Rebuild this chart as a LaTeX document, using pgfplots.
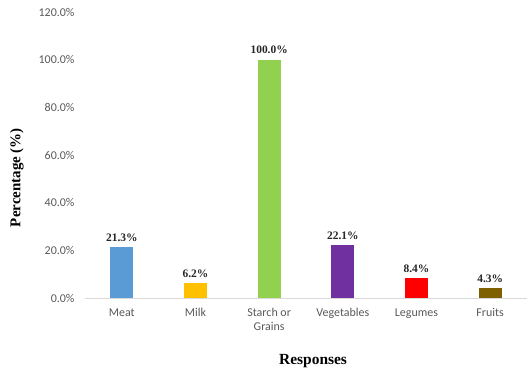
\documentclass[border=0pt]{standalone}
\usepackage{fontspec}
\setmainfont{Carlito}
\newfontfamily\timesf{Liberation Serif}
\usepackage{pgfplots}
\pgfplotsset{compat=1.18}
\definecolor{cMeat}{HTML}{5B9BD5}
\definecolor{cMilk}{HTML}{FFC000}
\definecolor{cStarch}{HTML}{92D050}
\definecolor{cVeg}{HTML}{7030A0}
\definecolor{cLeg}{HTML}{FF0000}
\definecolor{cFruit}{HTML}{7F6000}
\definecolor{tickgray}{HTML}{595959}
\begin{document}
\begin{tikzpicture}
\useasboundingbox (-85bp,-80bp) rectangle (445bp,298bp);
\begin{axis}[
  at={(0,0)}, anchor=south west,
  scale only axis, width=442bp, height=286bp,
  ybar, bar width=23bp,
  xmin=-0.5, xmax=5.5, ymin=0, ymax=120,
  xtick={0,1,2,3,4,5},
  xticklabels={Meat,Milk,Starch or\\Grains,Vegetables,Legumes,Fruits},
  ytick={0,20,40,60,80,100,120},
  /pgf/number format/assume math mode=true,
  yticklabel={\pgfmathprintnumber[fixed,precision=1,fixed zerofill]{\tick}\%},
  axis x line*=bottom, axis y line*=left,
  x axis line style={draw=black!15, line width=0.8bp, -},
  y axis line style={draw=none},
  major tick length=0pt,
  tick label style={font=\fontsize{12}{14}\selectfont, text=tickgray},
  xticklabel style={align=center, yshift=-7bp},
  yticklabel style={xshift=-7bp},
  ylabel={Percentage (\%)},
  ylabel style={font=\timesf\bfseries\fontsize{15}{16}\selectfont, at={(axis description cs:-0.154,0.421)}, anchor=center},
  xlabel={Responses},
  xlabel style={font=\timesf\bfseries\fontsize{15.5}{17}\selectfont, at={(axis description cs:0.516,-0.22)}, anchor=center},
  nodes near coords={\pgfmathprintnumber[fixed,precision=1,fixed zerofill]{\pgfplotspointmeta}\%},
  nodes near coords style={font=\timesf\bfseries\fontsize{11.5}{12}\selectfont, text=black!85, yshift=2bp},
  clip=false,
]
\addplot[fill=cMeat, draw=none, bar shift=0pt] coordinates {(0,21.3)};
\addplot[fill=cMilk, draw=none, bar shift=0pt] coordinates {(1,6.2)};
\addplot[fill=cStarch, draw=none, bar shift=0pt] coordinates {(2,100.0)};
\addplot[fill=cVeg, draw=none, bar shift=0pt] coordinates {(3,22.1)};
\addplot[fill=cLeg, draw=none, bar shift=0pt] coordinates {(4,8.4)};
\addplot[fill=cFruit, draw=none, bar shift=0pt] coordinates {(5,4.3)};
\end{axis}
\end{tikzpicture}
\end{document}
